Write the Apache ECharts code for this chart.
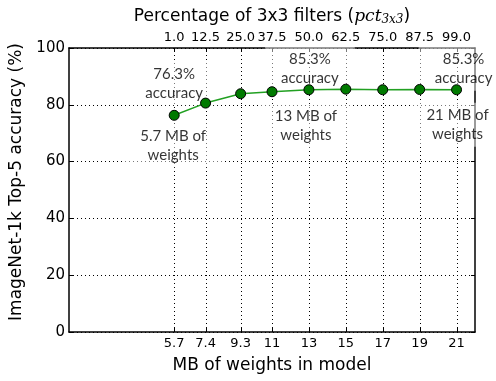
<!DOCTYPE html>
<html>
<head>
<meta charset="utf-8">
<script src="https://cdn.jsdelivr.net/npm/echarts@6/dist/echarts.min.js"></script>
<style>html,body{margin:0;padding:0;background:#fff}#c{width:496px;height:381px}</style>
</head>
<body>
<div id="c"></div>
<script>
// Data
const mbValues = [5.7, 7.4, 9.3, 11, 13, 15, 17, 19, 21];
const mbLabels = ['5.7', '7.4', '9.3', '11', '13', '15', '17', '19', '21'];
const pctLabels = ['1.0', '12.5', '25.0', '37.5', '50.0', '62.5', '75.0', '87.5', '99.0'];
const accuracy = [76.3, 80.6, 83.9, 84.6, 85.3, 85.5, 85.3, 85.4, 85.3];
const yTicks = [0, 20, 40, 60, 80, 100];
const annotatedIdx = [0, 4, 8];

const FONT = 'DejaVu Sans';
const dotted = { color: '#000', width: 1, type: [1, 3] };
const Y_MIN = 0, Y_MAX = 100;

const points = mbValues.map((x, i) => [x, accuracy[i]]);

const aboveOffsets = [[0, -32], [1, -21], [7, -21]];
const belowOffsets = [[-1, 30], [-3, 36], [1, 35]];

const boxStyle = {
  fontFamily: 'Lato', fontSize: 15, lineHeight: 19, color: '#000',
  backgroundColor: 'rgba(255,255,255,0.6)', padding: [3, 16, 3, 16]
};

const aboveData = annotatedIdx.map((i, k) => ({
  value: points[i],
  label: Object.assign({ show: true, position: 'inside', offset: aboveOffsets[k],
    formatter: accuracy[i].toFixed(1) + '%\naccuracy' }, boxStyle)
}));
const belowData = annotatedIdx.map((i, k) => ({
  value: points[i],
  label: Object.assign({ show: true, position: 'inside', offset: belowOffsets[k],
    formatter: mbLabels[i] + ' MB of\nweights' }, boxStyle)
}));

const xCommon = {
  type: 'value', min: 0, max: 22,
  axisLine: { show: true, onZero: false, lineStyle: { color: '#000', width: 1.5 } },
  axisTick: { show: false },
  splitLine: { show: false }
};

const chart = echarts.init(document.getElementById('c'), null, { renderer: 'canvas' });
chart.setOption({
  animation: false,
  backgroundColor: '#fff',
  grid: { left: 65, right: 21, top: 48, bottom: 49, containLabel: false },
  xAxis: [
    Object.assign({}, xCommon, {
      position: 'bottom',
      name: 'MB of weights in model', nameLocation: 'middle', nameGap: 25,
      nameTextStyle: { fontFamily: FONT, fontSize: 17, color: '#000' },
      axisLabel: { customValues: mbValues, margin: 5, fontFamily: FONT, fontSize: 13, color: '#000',
        formatter: v => mbLabels[mbValues.indexOf(v)] }
    }),
    Object.assign({}, xCommon, {
      position: 'top',
      name: '{t|Percentage of 3x3 filters (}{i|pct}{s|3x3}{t|)}', nameLocation: 'middle', nameGap: 21,
      nameTextStyle: { rich: {
        t: { fontFamily: FONT, fontSize: 17, color: '#000' },
        i: { fontFamily: 'DejaVu Serif', fontStyle: 'italic', fontSize: 17, color: '#000' },
        s: { fontFamily: 'DejaVu Serif', fontStyle: 'italic', fontSize: 12, color: '#000', verticalAlign: 'bottom', padding: [8, 0, 0, 0] }
      } },
      axisLabel: { customValues: mbValues, margin: 4, fontFamily: FONT, fontSize: 13, color: '#000',
        formatter: v => pctLabels[mbValues.indexOf(v)] }
    })
  ],
  yAxis: [
    {
      type: 'value', min: Y_MIN, max: Y_MAX, interval: 20, position: 'left',
      name: 'ImageNet-1k Top-5 accuracy (%)', nameLocation: 'middle', nameGap: 44,
      nameTextStyle: { fontFamily: FONT, fontSize: 17, color: '#000', padding: [0, 0, 0, 16] },
      axisLine: { show: true, onZero: false, lineStyle: { color: '#000', width: 1.5 } },
      axisTick: { show: true, inside: true, length: 4, lineStyle: { color: '#000' } },
      axisLabel: { margin: 4, fontFamily: FONT, fontSize: 15, color: '#000',
        formatter: v => String(yTicks[yTicks.indexOf(v)]) },
      splitLine: { show: true, lineStyle: dotted }
    },
    {
      type: 'value', min: Y_MIN, max: Y_MAX, interval: 20, position: 'right',
      axisLine: { show: true, onZero: false, lineStyle: { color: '#000', width: 1.5 } },
      axisTick: { show: true, inside: true, length: 4, lineStyle: { color: '#000' } },
      axisLabel: { show: false },
      splitLine: { show: false }
    }
  ],
  series: [
    {
      type: 'scatter', xAxisIndex: 0, yAxisIndex: 0, symbolSize: 0, z: 2,
      data: aboveData, silent: true
    },
    {
      type: 'scatter', xAxisIndex: 0, yAxisIndex: 0, symbolSize: 0, z: 2,
      data: belowData, silent: true
    },
    {
      type: 'line', xAxisIndex: 0, yAxisIndex: 0, data: points, z: 3,
      lineStyle: { color: '#22a022', width: 1.5 },
      symbol: 'circle', symbolSize: 10,
      itemStyle: { color: '#007a00', borderColor: '#000', borderWidth: 1 }
    }
  ]
});

// Vertical dotted grid lines and inside ticks at each MB value, placed through the chart's own scale
try {
  const elements = [];
  mbValues.forEach(v => {
    const b = chart.convertToPixel({ seriesIndex: 2 }, [v, Y_MIN]);
    const t = chart.convertToPixel({ seriesIndex: 2 }, [v, Y_MAX]);
    if (!b || !t) return;
    const px = Math.round(b[0]) + 0.5;
    elements.push(
      { type: 'line', z: 1, silent: true, shape: { x1: px, y1: b[1], x2: px, y2: t[1] },
        style: { stroke: '#000', lineWidth: 1, lineDash: [1, 3] } },
      { type: 'line', z: 1, silent: true, shape: { x1: px, y1: b[1], x2: px, y2: b[1] - 4 },
        style: { stroke: '#000', lineWidth: 1 } },
      { type: 'line', z: 1, silent: true, shape: { x1: px, y1: t[1], x2: px, y2: t[1] + 4 },
        style: { stroke: '#000', lineWidth: 1 } }
    );
  });
  chart.setOption({ graphic: { elements: elements } });
} catch (e) { /* keep chart as drawn */ }
</script>
</body>
</html>
